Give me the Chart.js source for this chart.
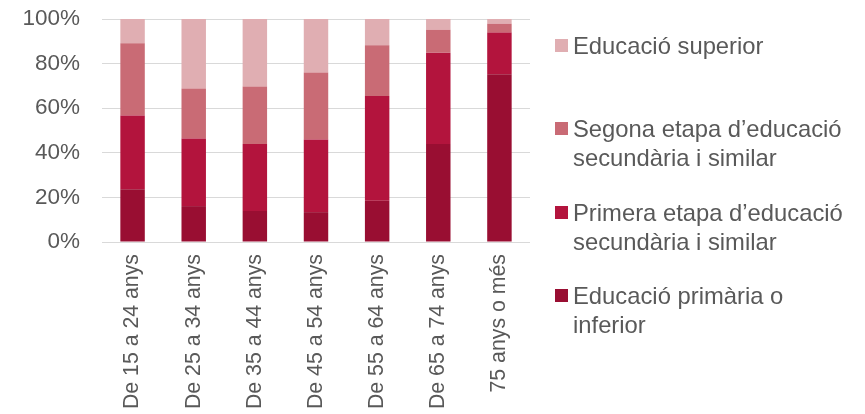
<!DOCTYPE html>
<html>
<head>
<meta charset="utf-8">
<script src="https://cdn.jsdelivr.net/npm/chart.js@4/dist/chart.umd.min.js"></script>
<style>
  body { margin: 0; background: #fff; }
  #wrap { position: relative; width: 865px; height: 414px; }
  #legend { position: absolute; left: 555px; top: 0; font-family: "Liberation Sans", Arial, sans-serif; font-size: 23.8px; line-height: 29px; color: #595959; }
  .item { position: absolute; left: 0; padding-left: 18px; white-space: nowrap; }
  .box { position: absolute; left: 0; top: 8px; width: 13px; height: 13px; }
</style>
</head>
<body>
<div id="wrap">
  <canvas id="chart" width="865" height="414"></canvas>
  <div id="legend"></div>
</div>
<script>
// Age groups and education levels (% of population)
const categories = ['De 15 a 24 anys', 'De 25 a 34 anys', 'De 35 a 44 anys', 'De 45 a 54 anys', 'De 55 a 64 anys', 'De 65 a 74 anys', '75 anys o més'];
const primaria = [23.7, 16.1, 13.9, 13.4, 18.5, 43.9, 75.2];
const primeraEtapa = [33.0, 30.3, 30.1, 32.6, 47.0, 41.0, 18.7];
const segonaEtapa = [32.4, 22.4, 25.7, 30.0, 22.7, 10.3, 4.0];
const superior = [10.9, 31.2, 30.3, 24.0, 11.8, 4.8, 2.1];
const yTicks = [0, 20, 40, 60, 80, 100];

const seriesNames = ['Educació primària o inferior', 'Primera etapa d’educació secundària i similar', 'Segona etapa d’educació secundària i similar', 'Educació superior'];
const colors = ['#990e32', '#b3143d', '#c96b75', '#e0aeb2'];

const fontFamily = '"Liberation Sans", Arial, sans-serif';

function initChart() {
  const ctx = document.getElementById('chart').getContext('2d');
  const values = [primaria, primeraEtapa, segonaEtapa, superior];

  new Chart(ctx, {
    type: 'bar',
    data: {
      labels: categories,
      datasets: values.map((v, i) => ({
        label: seriesNames[i],
        data: v,
        backgroundColor: colors[i],
        borderWidth: 0,
        categoryPercentage: 0.8,
        barPercentage: 0.5
      }))
    },
    options: {
      responsive: false,
      animation: false,
      layout: { padding: { left: 0, right: 335, top: 19, bottom: 0 } },
      plugins: {
        legend: { display: false },
        tooltip: { enabled: false }
      },
      scales: {
        x: {
          stacked: true,
          grid: { display: false },
          border: { display: false },
          ticks: {
            color: '#595959',
            font: { family: fontFamily, size: 21.3 },
            autoSkip: false,
            minRotation: 90,
            maxRotation: 90,
            padding: 4
          },
          afterFit: scale => { scale.height = 172; }
        },
        y: {
          stacked: true,
          min: 0,
          max: 100,
          grid: { color: '#d9d9d9', lineWidth: 1, drawTicks: false },
          border: { display: false },
          afterBuildTicks: scale => { scale.ticks = yTicks.map(v => ({ value: v })); },
          ticks: {
            color: '#595959',
            font: { family: fontFamily, size: 22.5 },
            padding: 22,
            callback: v => v + '%'
          },
          afterFit: scale => {
            scale.width = 102;
            // tick padding is only horizontal here, keep plot top at layout padding
            scale.paddingTop = 0;
            scale.paddingBottom = 0;
          }
        }
      }
    }
  });
}

// Legend on the right, top to bottom, with wrapped labels
function initLegend() {
  const legend = document.getElementById('legend');
  const items = [
    { idx: 3, lines: ['Educació superior'], top: 31 },
    { idx: 2, lines: ['Segona etapa d’educació', 'secundària i similar'], top: 114 },
    { idx: 1, lines: ['Primera etapa d’educació', 'secundària i similar'], top: 198 },
    { idx: 0, lines: ['Educació primària o', 'inferior'], top: 281 }
  ];
  items.forEach(it => {
    const div = document.createElement('div');
    div.className = 'item';
    div.style.top = it.top + 'px';
    div.innerHTML = '<span class="box" style="background:' + colors[it.idx] + '"></span>' + it.lines.join('<br>');
    legend.appendChild(div);
  });
}

document.addEventListener('DOMContentLoaded', function() {
  initChart();
  initLegend();
});
</script>
</body>
</html>
